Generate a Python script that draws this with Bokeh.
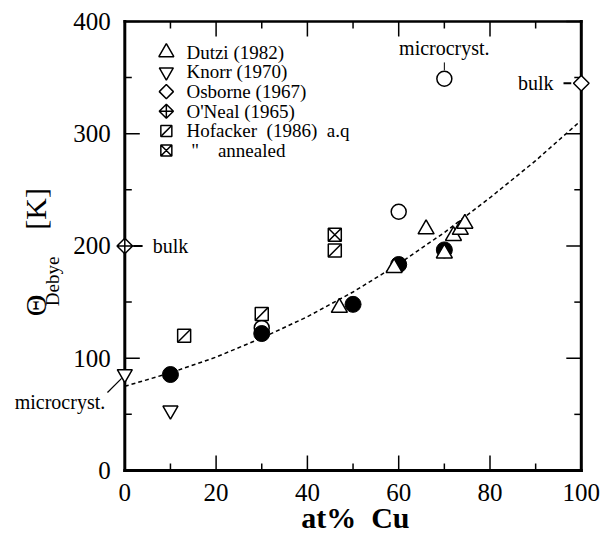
import math
from bokeh.plotting import figure
from bokeh.models import Range1d
from bokeh.core.properties import value
from bokeh.embed import file_html
from bokeh.resources import INLINE

# ---- data: Debye temperature (K) versus Cu content (at%) ----
fit_cu = [0, 10, 20, 30, 40, 50, 60, 70, 80, 90, 100]
fit_theta = [75, 87, 101, 118, 137, 159, 184, 212, 243, 276, 312]

work_cu = [10, 30, 50, 60, 70]
work_theta = [85.5, 122, 148, 183.5, 196.5]

open_cu = [30, 60, 70]
open_theta = [127, 230.5, 349]

dutzi_cu = [47, 59, 66, 70, 72, 73.5, 74.5]
dutzi_theta = [145, 180.5, 215, 193.5, 209, 214.5, 220]

knorr_cu = [0, 10]
knorr_theta = [86, 53.5]

osborne_cu = [100]
osborne_theta = [345]

oneal_cu = [0]
oneal_theta = [200]

hof_aq_cu = [13, 30, 46]
hof_aq_theta = [120, 139.5, 196]

hof_ann_cu = [46]
hof_ann_theta = [210]

x_ticks = [0, 20, 40, 60, 80, 100]
x_minor = [10, 30, 50, 70, 90]
y_ticks = [0, 100, 200, 300, 400]
y_minor = [50, 150, 250, 350]

legend_labels = [
    "Dutzi (1982)",
    "Knorr (1970)",
    "Osborne (1967)",
    "O'Neal (1965)",
    "Hofacker\u00a0\u00a0(1986)\u00a0\u00a0a.q",
    "\u00a0\"\u00a0\u00a0\u00a0\u00a0annealed",
]

FONT = "Liberation Serif"
INK = "black"
X0, X1 = 0, 100      # box limits in at% Cu
Y0, Y1 = 0, 400      # box limits in K

# The frame spans the whole canvas so that markers sitting on the box edges
# and the texts around the box are all drawn without clipping.
W, H = 600, 536
PX_X = 4.565          # pixels per at%
PX_Y = 1.1226         # pixels per K
LEFT_PX, BOTTOM_PX = 124.3, 66
x_lo = -LEFT_PX / PX_X
y_lo = -BOTTOM_PX / PX_Y

p = figure(width=W, height=H, output_backend="svg", toolbar_location=None,
           x_range=Range1d(x_lo, x_lo + W / PX_X),
           y_range=Range1d(y_lo, y_lo + H / PX_Y),
           x_axis_location=None, y_axis_location=None,
           min_border=0)
p.outline_line_color = None
p.background_fill_color = "white"
p.border_fill_color = "white"
p.xgrid.visible = False
p.ygrid.visible = False

dx = lambda px: px / PX_X   # pixel length -> at%
dy = lambda px: px / PX_Y   # pixel length -> K

# ---- box and ticks ----
p.segment(x0=[X0, X1, X0], y0=[Y0, Y0, Y0], x1=[X0, X1, X1], y1=[Y1, Y1, Y0],
          line_color=INK, line_width=3, line_cap="square")
p.segment(x0=[X0], y0=[Y1], x1=[X1], y1=[Y1], line_color=INK, line_width=2.5,
          line_cap="square")

maj_y, min_y = dx(15), dx(7)
p.segment(x0=[X0] * len(y_ticks), y0=y_ticks, x1=[X0 + maj_y] * len(y_ticks), y1=y_ticks,
          line_color=INK, line_width=1.5)
p.segment(x0=[X1] * len(y_ticks), y0=y_ticks, x1=[X1 - maj_y] * len(y_ticks), y1=y_ticks,
          line_color=INK, line_width=1.5)
p.segment(x0=[X0] * len(y_minor), y0=y_minor, x1=[X0 + min_y] * len(y_minor), y1=y_minor,
          line_color=INK, line_width=1.5)
p.segment(x0=[X1] * len(y_minor), y0=y_minor, x1=[X1 - min_y] * len(y_minor), y1=y_minor,
          line_color=INK, line_width=1.5)

maj_x, min_x = dy(15), dy(7)
p.segment(x0=x_ticks, y0=[Y0] * len(x_ticks), x1=x_ticks, y1=[Y0 + maj_x] * len(x_ticks),
          line_color=INK, line_width=1.5)
p.segment(x0=x_ticks, y0=[Y1] * len(x_ticks), x1=x_ticks, y1=[Y1 - maj_x] * len(x_ticks),
          line_color=INK, line_width=1.5)
p.segment(x0=x_minor, y0=[Y0] * len(x_minor), x1=x_minor, y1=[Y0 + min_x] * len(x_minor),
          line_color=INK, line_width=1.5)
p.segment(x0=x_minor, y0=[Y1] * len(x_minor), x1=x_minor, y1=[Y1 - min_x] * len(x_minor),
          line_color=INK, line_width=1.5)

# tick labels
tick_txt = dict(text_font=value(FONT), text_font_size="25px", text_color=INK,
                text_baseline="middle")
p.text(x=[X0 - dx(14)] * len(y_ticks), y=y_ticks, text=[str(t) for t in y_ticks],
       text_align="right", **tick_txt)
p.text(x=x_ticks, y=[Y0 - dy(22)] * len(x_ticks), text=[str(t) for t in x_ticks],
       text_align="center", **tick_txt)

# ---- fitted trend ----
p.line(fit_cu, fit_theta, line_color=INK, line_width=1.5, line_dash="4 3")

# ---- data points (draw order sets the overlaps) ----
p.scatter(open_cu, open_theta, marker="circle", size=15,
          fill_color="white", line_color=INK, line_width=1.5)
p.scatter(work_cu, work_theta, marker="circle", size=16,
          fill_color=INK, line_color=INK)
p.scatter(hof_aq_cu, hof_aq_theta, marker="square", size=13,
          fill_color="white", line_color=INK, line_width=1.5)
p.scatter(hof_aq_cu, hof_aq_theta, marker="dash", size=17, angle=math.pi / 4,
          line_color=INK, line_width=1.5)
p.scatter(hof_ann_cu, hof_ann_theta, marker="square_x", size=13,
          fill_color="white", line_color=INK, line_width=1.5)
p.scatter(knorr_cu, knorr_theta, marker="inverted_triangle", size=15,
          fill_color="white", line_color=INK, line_width=1.5)
p.scatter(dutzi_cu, dutzi_theta, marker="triangle", size=16,
          fill_color="white", line_color=INK, line_width=1.5)
p.scatter(osborne_cu, osborne_theta, marker="square", size=11, angle=math.pi / 4,
          fill_color="white", line_color=INK, line_width=1.5)
p.scatter(oneal_cu, oneal_theta, marker="square_x", size=11, angle=math.pi / 4,
          fill_color="white", line_color=INK, line_width=1.5)

# ---- legend inside the box ----
LEG_X, LEG_TX, LEG_Y0, LEG_DY = 9.1, 13.5, 372.5, 17.5
ly = [LEG_Y0 - i * LEG_DY for i in range(len(legend_labels))]
mk = dict(fill_color="white", line_color=INK, line_width=1.5)
p.scatter([LEG_X], [ly[0]], marker="triangle", size=15, **mk)
p.scatter([LEG_X], [ly[1]], marker="inverted_triangle", size=14, **mk)
p.scatter([LEG_X], [ly[2]], marker="square", size=10, angle=math.pi / 4, **mk)
p.scatter([LEG_X], [ly[3]], marker="square_x", size=10, angle=math.pi / 4, **mk)
p.scatter([LEG_X], [ly[4]], marker="square", size=11, **mk)
p.scatter([LEG_X], [ly[4]], marker="dash", size=14, angle=math.pi / 4,
          line_color=INK, line_width=1.5)
p.scatter([LEG_X], [ly[5]], marker="square_x", size=11, **mk)
p.text(x=[LEG_TX] * len(ly), y=ly, text=legend_labels,
       text_font=value(FONT), text_font_size="19px", text_color=INK,
       text_align="left", text_baseline="middle")

# ---- point annotations ----
txt = dict(text_font=value(FONT), text_font_size="20px", text_color=INK,
           text_baseline="middle")
p.text(x=[open_cu[2]], y=[open_theta[2] + 27], text=["microcryst."],
       text_align="center", **txt)
p.segment(x0=[open_cu[2]], y0=[open_theta[2] + 7.5],
          x1=[open_cu[2]], y1=[open_theta[2] + 14.5], line_color=INK, line_width=1)
p.text(x=[osborne_cu[0] - 6.1], y=[osborne_theta[0] + 0.6], text=["bulk"],
       text_align="right", **txt)
p.segment(x0=[osborne_cu[0] - 3.9], y0=[osborne_theta[0]],
          x1=[osborne_cu[0] - 2.2], y1=[osborne_theta[0]], line_color=INK, line_width=2)
p.text(x=[oneal_cu[0] + 6.1], y=[oneal_theta[0] + 0.4], text=["bulk"],
       text_align="left", **txt)
p.segment(x0=[oneal_cu[0] + 1.9], y0=[oneal_theta[0]],
          x1=[oneal_cu[0] + 3.9], y1=[oneal_theta[0]], line_color=INK, line_width=2)
p.segment(x0=[knorr_cu[0] - 3.8], y0=[knorr_theta[0] - 16.5],
          x1=[knorr_cu[0] - 0.7], y1=[knorr_theta[0] - 4], line_color=INK, line_width=1.2)
p.text(x=[knorr_cu[0] - 14.2], y=[knorr_theta[0] - 25.4], text=["microcryst."],
       text_align="center", **txt)

# ---- axis titles ----
p.text(x=[(X0 + X1) / 2 + 0.5], y=[Y0 - dy(47)], text=["at%\u00a0\u00a0Cu"],
       text_align="center", text_baseline="middle", text_font=value(FONT),
       text_font_size="30px", text_font_style="bold", text_color=INK)
rot = math.pi / 2
title_x = X0 - dx(89)
p.text(x=[title_x], y=[147], text=["\u0398"], angle=rot, text_align="center",
       text_baseline="middle", text_font=value(FONT), text_font_size="30px",
       text_color=INK)
p.text(x=[title_x + dx(17)], y=[168.5], text=["Debye"], angle=rot, text_align="center",
       text_baseline="middle", text_font=value(FONT), text_font_size="19px",
       text_color=INK)
p.text(x=[title_x], y=[233], text=["[K]"], angle=rot, text_align="center",
       text_baseline="middle", text_font=value(FONT), text_font_size="30px",
       text_color=INK)

open("out.html", "w").write(file_html(p, INLINE))
